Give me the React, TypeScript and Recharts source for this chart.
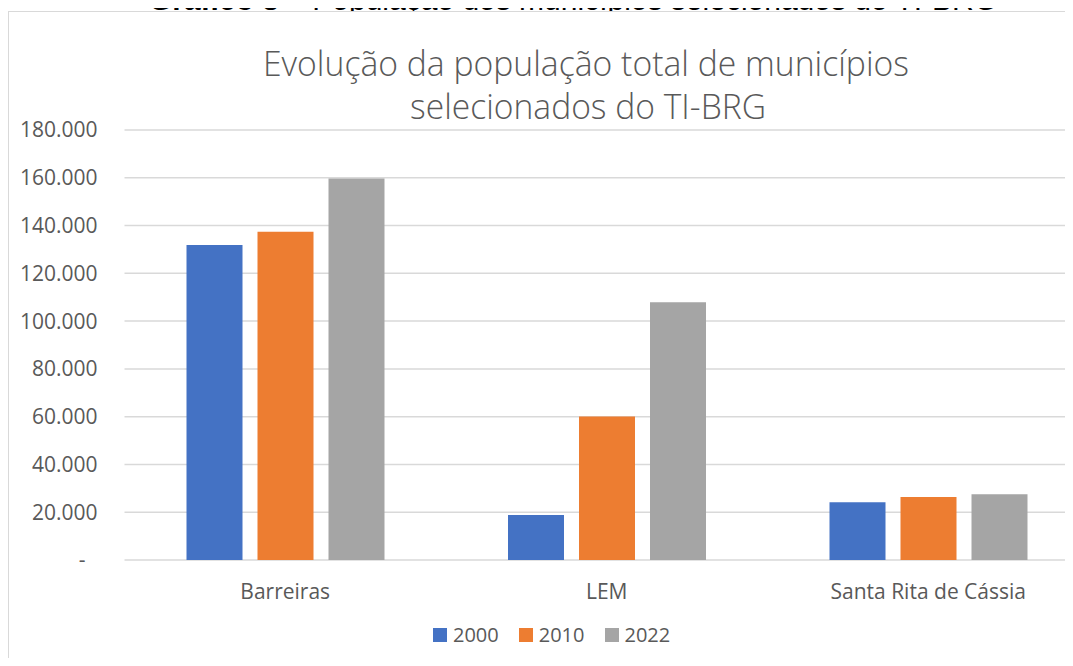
import { BarChart, Bar, XAxis, YAxis, CartesianGrid } from 'recharts'

const CATEGORIES = ['Barreiras', 'LEM', 'Santa Rita de Cássia']
const POP_2000 = [131849, 18856, 24150]
const POP_2010 = [137427, 60105, 26400]
const POP_2022 = [159743, 107900, 27500]
const Y_TICKS = [0, 20000, 40000, 60000, 80000, 100000, 120000, 140000, 160000, 180000]

const SERIES = [
  { key: '2000', values: POP_2000, color: '#4472C4' },
  { key: '2010', values: POP_2010, color: '#ED7D31' },
  { key: '2022', values: POP_2022, color: '#A5A5A5' },
]

const data = CATEGORIES.map((name, i) => {
  const row: Record<string, string | number> = { name }
  SERIES.forEach((s) => { row[s.key] = s.values[i] })
  return row
})

const FONT = '"Open Sans", "Noto Sans", sans-serif'
const TEXT = '#595959'

// Excel style: thousands with a dot, zero shown as a dash
const fmt = (v: number) =>
  v === 0 ? '-\u2007' : String(v).replace(/\B(?=(\d{3})+(?!\d))/g, '.')

export default function App() {
  return (
    <div style={{ position: 'relative', margin: -8, width: 1073, height: 666, overflow: 'hidden', background: '#fff' }}>
      {/* caption, cut at the top of the picture as in the source */}
      <div
        style={{
          position: 'absolute', left: 0, top: -15, width: 1146, textAlign: 'center',
          fontFamily: '"Liberation Sans", Arial, sans-serif', fontSize: 30, lineHeight: '30px',
          color: '#000', whiteSpace: 'nowrap',
        }}
      >
        <b>Gráfico 3</b> – População dos municípios selecionados do TI-BRG
      </div>

      {/* chart frame */}
      <div style={{ position: 'absolute', left: 8, top: 11, width: 1200, height: 700, border: '1px solid #d9d9d9', boxSizing: 'border-box', background: '#fff' }} />

      {/* title */}
      <svg width={1073} height={130} style={{ position: 'absolute', left: 0, top: 0 }}>
        <text x={586} y={76} textAnchor="middle" fontFamily={FONT} fontWeight={300} fontSize={34} fill={TEXT} textLength={646} lengthAdjust="spacingAndGlyphs">
          Evolução da população total de municípios
        </text>
        <text x={588} y={119} textAnchor="middle" fontFamily={FONT} fontWeight={300} fontSize={34} fill={TEXT} textLength={356} lengthAdjust="spacingAndGlyphs">
          selecionados do TI-BRG
        </text>
      </svg>

      <div style={{ position: 'absolute', left: 0, top: 0 }}>
        <BarChart
          width={1110}
          height={666}
          data={data}
          margin={{ top: 130, right: 21, bottom: 76, left: 0 }}
          barSize={56}
          barGap={15}
        >
          <CartesianGrid vertical={false} stroke="#d9d9d9" strokeWidth={1.5} />
          <XAxis
            dataKey="name"
            height={30}
            axisLine={false}
            tickLine={false}
            tickSize={0}
            tickMargin={24}
            tick={{ fontSize: 21, fill: TEXT, fontFamily: FONT }}
          />
          <YAxis
            width={124.5}
            domain={[0, 180000]}
            ticks={Y_TICKS}
            interval={0}
            axisLine={false}
            tickLine={false}
            tickSize={0}
            tickMargin={27}
            tickFormatter={fmt}
            tick={{ fontSize: 21, fill: TEXT, fontFamily: FONT }}
          />
          {SERIES.map((s) => (
            <Bar key={s.key} dataKey={s.key} fill={s.color} isAnimationActive={false} />
          ))}
        </BarChart>
      </div>

      {/* legend */}
      <div style={{ position: 'absolute', left: 433, top: 624, display: 'flex', alignItems: 'center', fontFamily: FONT, fontSize: 20, color: TEXT, lineHeight: '22px' }}>
        {SERIES.map((s) => (
          <span key={s.key} style={{ display: 'flex', alignItems: 'center', marginRight: 20 }}>
            <span style={{ width: 14, height: 14, background: s.color, marginRight: 6, display: 'inline-block' }} />
            {s.key}
          </span>
        ))}
      </div>
    </div>
  )
}
